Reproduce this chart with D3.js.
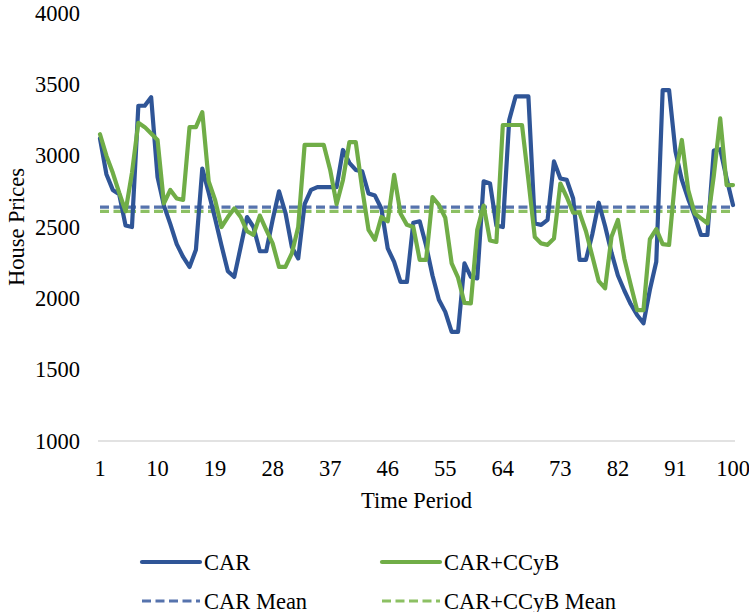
<!DOCTYPE html>
<html>
<head>
<meta charset="utf-8">
<script src="https://cdn.jsdelivr.net/npm/d3@7"></script>
<style>
  html, body { margin: 0; padding: 0; background: #fff; }
  svg { display: block; }
  text { font-family: "Liberation Serif", "Times New Roman", serif; fill: #000; }
</style>
</head>
<body>
<div id="chart"></div>
<script>
// Simulated house prices over 100 periods under two policy regimes
const periods = d3.range(1, 101);

const carPrices = [
  3120, 2870, 2760, 2730, 2510, 2500, 3350, 3350, 3410, 2850,
  2650, 2520, 2380, 2290, 2220, 2340, 2910, 2740, 2560, 2370,
  2190, 2150, 2360, 2570, 2500, 2330, 2330, 2550, 2750, 2600,
  2360, 2280, 2660, 2760, 2780, 2780, 2780, 2780, 3040, 2950,
  2900, 2890, 2735, 2720, 2630, 2350, 2255, 2115, 2115, 2530,
  2540, 2370, 2160, 1990, 1905, 1765, 1765, 2245, 2150, 2140,
  2820, 2805, 2510, 2500, 3250, 3415, 3415, 3415, 2525, 2515,
  2550, 2960, 2840, 2830, 2700, 2270, 2270, 2450, 2670, 2505,
  2320, 2160, 2055, 1960, 1883, 1825, 2060, 2257, 3460, 3460,
  3030, 2830, 2695, 2580, 2444, 2444, 3035, 3045, 2840, 2654
];

const ccybPrices = [
  3150, 3000, 2880, 2740, 2610, 2880, 3230, 3200, 3155, 3110,
  2665, 2760, 2700, 2690, 3200, 3200, 3305, 2820, 2690, 2500,
  2570, 2630, 2570, 2470, 2445, 2580, 2480, 2385, 2220, 2220,
  2315, 2500, 3075, 3075, 3075, 3075, 2900, 2660, 2830, 3095,
  3095, 2770, 2480, 2410, 2570, 2540, 2865, 2595, 2515, 2500,
  2270, 2270, 2710, 2655, 2565, 2245, 2145, 1968, 1965, 2480,
  2650, 2405, 2395, 3215, 3215, 3215, 3215, 2830, 2430, 2385,
  2375, 2420, 2805, 2710, 2600, 2600, 2470, 2295, 2120, 2070,
  2432, 2549, 2280, 2095, 1918, 1918, 2415, 2485, 2380, 2374,
  2860, 3110, 2759, 2596, 2560, 2526, 2860, 3261, 2794, 2794
];

const carMean = 2640;
const ccybMean = 2610;

const xTicks = [1, 10, 19, 28, 37, 46, 55, 64, 73, 82, 91, 100];
const yTicks = [1000, 1500, 2000, 2500, 3000, 3500, 4000];

const W = 749, H = 612;
const FONT = 22.5;

const svg = d3.select("#chart").append("svg")
  .attr("width", W).attr("height", H);

const x = d3.scaleLinear().domain([1, 100]).range([100, 733]);
const y = d3.scaleLinear().domain([1000, 4000]).range([441, 13]);

// bottom axis line
svg.append("line")
  .attr("x1", x(1) - 2).attr("x2", x(100) + 2)
  .attr("y1", y(1000)).attr("y2", y(1000))
  .attr("stroke", "#d9d9d9").attr("stroke-width", 1.3);

// y tick labels
svg.append("g").selectAll("text").data(yTicks).join("text")
  .attr("x", 80).attr("y", d => y(d) + 7.5)
  .attr("text-anchor", "end")
  .attr("font-size", FONT)
  .text(d => d);

// x tick labels
svg.append("g").selectAll("text").data(xTicks).join("text")
  .attr("x", d => x(d)).attr("y", 476)
  .attr("text-anchor", "middle")
  .attr("font-size", FONT)
  .text(d => d);

// axis titles
svg.append("text")
  .attr("x", (x(1) + x(100)) / 2).attr("y", 508)
  .attr("text-anchor", "middle").attr("font-size", FONT)
  .text("Time Period");

svg.append("text")
  .attr("transform", `translate(24, ${y(2500)}) rotate(-90)`)
  .attr("text-anchor", "middle").attr("font-size", FONT)
  .text("House Prices");

const series = [
  { name: "CAR", values: carPrices, color: "#2f5597" },
  { name: "CAR+CCyB", values: ccybPrices, color: "#70ad47" }
];
const means = [
  { name: "CAR Mean", value: carMean, color: "#5673ad" },
  { name: "CAR+CCyB Mean", value: ccybMean, color: "#8cc063" }
];

// mean reference lines
svg.append("g").selectAll("line").data(means).join("line")
  .attr("x1", x(1)).attr("x2", x(100))
  .attr("y1", d => y(d.value)).attr("y2", d => y(d.value))
  .attr("stroke", d => d.color)
  .attr("stroke-width", 3.2)
  .attr("stroke-dasharray", "9,4.5");

const line = d3.line()
  .x((d, i) => x(periods[i]))
  .y(d => y(d))
  .curve(d3.curveLinear);

svg.append("g").selectAll("path").data(series).join("path")
  .attr("d", d => line(d.values))
  .attr("fill", "none")
  .attr("stroke", d => d.color)
  .attr("stroke-width", 4.2)
  .attr("stroke-linejoin", "round")
  .attr("stroke-linecap", "round");

// legend
const legendCols = [142, 382];
const legendRows = [562, 601];
const legend = svg.append("g");

series.forEach((s, i) => {
  legend.append("line")
    .attr("x1", legendCols[i]).attr("x2", legendCols[i] + 58)
    .attr("y1", legendRows[0]).attr("y2", legendRows[0])
    .attr("stroke", s.color).attr("stroke-width", 4.2)
    .attr("stroke-linecap", "round");
  legend.append("text")
    .attr("x", legendCols[i] + 62).attr("y", legendRows[0] + 7.5)
    .attr("font-size", FONT).text(s.name);
});

means.forEach((m, i) => {
  legend.append("line")
    .attr("x1", legendCols[i]).attr("x2", legendCols[i] + 58)
    .attr("y1", legendRows[1]).attr("y2", legendRows[1])
    .attr("stroke", m.color).attr("stroke-width", 3.2)
    .attr("stroke-dasharray", "9,4.5");
  legend.append("text")
    .attr("x", legendCols[i] + 62).attr("y", legendRows[1] + 7.5)
    .attr("font-size", FONT).text(m.name);
});
</script>
</body>
</html>
